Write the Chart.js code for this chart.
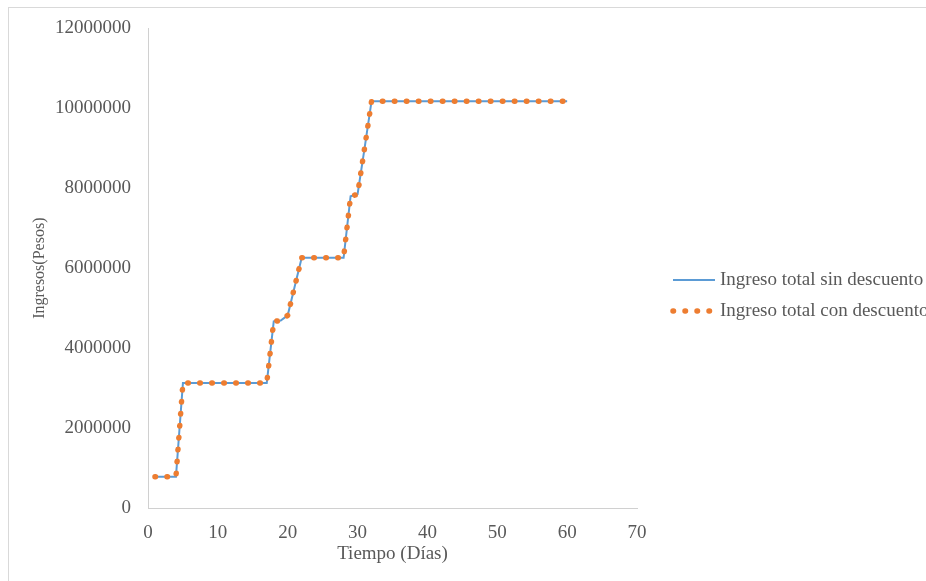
<!DOCTYPE html>
<html>
<head>
<meta charset="utf-8">
<script src="https://cdn.jsdelivr.net/npm/chart.js@4"></script>
<style>
  html, body { margin: 0; padding: 0; background: #fff; overflow: hidden; }
  #wrap { position: relative; width: 926px; height: 581px; }
  #frame { position: absolute; left: 8px; top: 7px; width: 940px; height: 590px; border: 1px solid #d9d9d9; }
  #myChart { position: absolute; left: 0; top: 0; }
</style>
</head>
<body>
<div id="wrap">
  <div id="frame"></div>
  <canvas id="myChart" width="926" height="581"></canvas>
</div>
<script>
(() => {
  'use strict'

  // Tiempo en días
  const dias = [1, 2, 3, 4, 5, 6, 7, 8, 9, 10, 11, 12, 13, 14, 15, 16, 17, 18, 19, 20,
    21, 22, 23, 24, 25, 26, 27, 28, 29, 30, 31, 32, 33, 34, 35, 36, 37, 38, 39, 40,
    41, 42, 43, 44, 45, 46, 47, 48, 49, 50, 51, 52, 53, 54, 55, 56, 57, 58, 59, 60]

  const ingresoSinDescuento = [780000, 780000, 780000, 780000,
    3130000, 3130000, 3130000, 3130000, 3130000, 3130000, 3130000, 3130000, 3130000, 3130000, 3130000, 3130000, 3130000,
    4670000, 4690000, 4820000, 5540000,
    6260000, 6260000, 6260000, 6260000, 6260000, 6260000, 6260000,
    7800000, 7850000, 9000000,
    10180000, 10180000, 10180000, 10180000, 10180000, 10180000, 10180000, 10180000, 10180000, 10180000,
    10180000, 10180000, 10180000, 10180000, 10180000, 10180000, 10180000, 10180000, 10180000, 10180000,
    10180000, 10180000, 10180000, 10180000, 10180000, 10180000, 10180000, 10180000, 10180000]

  const ingresoConDescuento = [780000, 780000, 780000, 780000,
    3130000, 3130000, 3130000, 3130000, 3130000, 3130000, 3130000, 3130000, 3130000, 3130000, 3130000, 3130000, 3130000,
    4670000, 4690000, 4820000, 5540000,
    6260000, 6260000, 6260000, 6260000, 6260000, 6260000, 6260000,
    7800000, 7850000, 9000000,
    10180000, 10180000, 10180000, 10180000, 10180000, 10180000, 10180000, 10180000, 10180000, 10180000,
    10180000, 10180000, 10180000, 10180000, 10180000, 10180000, 10180000, 10180000, 10180000, 10180000,
    10180000, 10180000, 10180000, 10180000, 10180000, 10180000, 10180000, 10180000, 10180000]

  const xTicks = [0, 10, 20, 30, 40, 50, 60, 70]
  const yTicks = [0, 2000000, 4000000, 6000000, 8000000, 10000000, 12000000]

  const serif = 'Liberation Serif'
  const gris = '#595959'
  const ejeColor = '#d0d0d0'

  const toPoints = (ys) => dias.map((d, i) => ({ x: d, y: ys[i] }))

  // leyenda a la derecha, dibujada con los estilos de cada dataset
  const sideLegend = {
    id: 'sideLegend',
    afterDraw (chart, args, opts) {
      const ctx = chart.ctx
      ctx.save()
      ctx.font = `${opts.size}px "${serif}"`
      ctx.textBaseline = 'middle'
      chart.data.datasets.forEach((ds, i) => {
        const y = opts.y + i * opts.gap
        ctx.strokeStyle = ds.borderColor
        ctx.lineWidth = ds.borderWidth
        ctx.lineCap = ds.borderCapStyle || 'butt'
        ctx.setLineDash(ds.borderDash || [])
        ctx.beginPath()
        ctx.moveTo(opts.x, y)
        ctx.lineTo(opts.x + opts.sample, y)
        ctx.stroke()
        ctx.setLineDash([])
        ctx.fillStyle = gris
        ctx.fillText(ds.label, opts.x + opts.sample + 5, y)
      })
      ctx.restore()
    }
  }

  const ctx = document.getElementById('myChart')
  // eslint-disable-next-line no-unused-vars
  const myChart = new Chart(ctx, {
    type: 'line',
    data: {
      datasets: [{
        label: 'Ingreso total sin descuento',
        data: toPoints(ingresoSinDescuento),
        borderColor: '#5B9BD5',
        borderWidth: 2,
        pointRadius: 0,
        tension: 0,
        order: 1
      }, {
        label: 'Ingreso total con descuento',
        data: toPoints(ingresoConDescuento),
        borderColor: '#ED7D31',
        borderWidth: 5.5,
        borderDash: [0.5, 11.5],
        borderCapStyle: 'round',
        pointRadius: 0,
        tension: 0,
        order: 0
      }]
    },
    options: {
      responsive: false,
      animation: false,
      devicePixelRatio: 1,
      layout: {
        padding: { left: 0, top: 25, right: 289, bottom: 0 }
      },
      scales: {
        x: {
          type: 'linear',
          min: 0,
          max: 70,
          grid: { display: false, drawTicks: false },
          border: { display: true, color: ejeColor, width: 1 },
          afterBuildTicks: (scale) => { scale.ticks = xTicks.map(v => ({ value: v })) },
          afterFit: (scale) => { scale.height = 73 },
          ticks: {
            padding: 14,
            maxRotation: 0,
            autoSkip: false,
            color: gris,
            font: { family: serif, size: 19 }
          },
          title: {
            display: true,
            text: 'Tiempo (Días)',
            color: gris,
            padding: { top: 0, bottom: 16 },
            font: { family: serif, size: 19 }
          }
        },
        y: {
          min: 0,
          max: 12000000,
          grid: { display: false, drawTicks: false },
          border: { display: true, color: ejeColor, width: 1 },
          afterBuildTicks: (scale) => { scale.ticks = yTicks.map(v => ({ value: v })) },
          afterFit: (scale) => { scale.width = 148 },
          ticks: {
            padding: 17,
            color: gris,
            font: { family: serif, size: 19 },
            callback: (v) => String(v)
          },
          title: {
            display: true,
            text: 'Ingresos(Pesos)',
            color: gris,
            padding: { top: 30, bottom: 0 },
            font: { family: serif, size: 16 }
          }
        }
      },
      plugins: {
        legend: { display: false },
        tooltip: { enabled: false },
        sideLegend: { x: 673, y: 280, gap: 31, sample: 42, size: 19 }
      }
    },
    plugins: [sideLegend]
  })
})()
</script>
</body>
</html>
